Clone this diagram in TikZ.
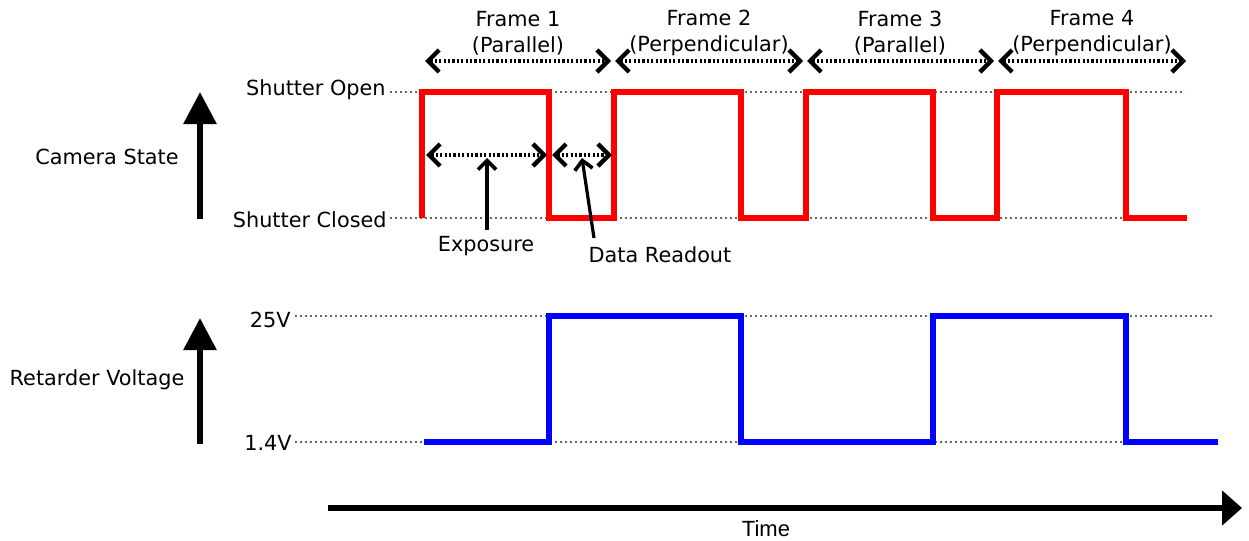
\documentclass[tikz,border=0pt]{standalone}
\usepackage{fontspec}
\setmainfont{DejaVu Sans}
\newfontfamily\timefont{Liberation Sans}
\usetikzlibrary{arrows.meta}

\begin{document}
\begin{tikzpicture}[x=0.5pt,y=-0.5pt,
  guide/.style={gray!80!black,line width=0.7pt,dash pattern=on 1.2pt off 1.3pt},
  frame/.style={line width=2pt,dash pattern=on 1.1pt off 1.1pt,
    {Straight Barb[length=5.5pt,width=11pt,line width=2.2pt]}-{Straight Barb[length=5.5pt,width=11pt,line width=2.2pt]}},
  pointer/.style={line width=1.6pt,-{Straight Barb[length=4.5pt,width=9pt,line width=1.8pt]}},
  updown/.style={line width=3pt,-{Triangle[length=16pt,width=16pt]}},
  lbl/.style={inner sep=0pt,font=\fontsize{10.4}{13}\selectfont}]
\useasboundingbox (0,0) rectangle (1249,541);

% level labels and guide lines
\node[lbl,anchor=east] (open) at (386,90) {Shutter Open};
\node[lbl,anchor=east] (closed) at (387,220) {Shutter Closed};
\node[lbl,anchor=east] (high) at (291,320) {25V};
\node[lbl,anchor=east] (low) at (292,443) {1.4V};
\draw[guide] (open.east |- 0,92) ++(4,0) -- ++(795,0);
\draw[guide] (closed.east |- 0,218) ++(3,0) -- ++(797,0);
\draw[guide] (high.east |- 0,316) ++(4,0) -- ++(920,0);
\draw[guide] (low.east |- 0,442) ++(3,0) -- ++(923,0);

% axis labels
\node[lbl] (cam) at (107,157) {Camera State};
\node[lbl] (ret) at (97,380) {Retarder Voltage};
\coordinate (cambot) at (200,219);
\coordinate (camtop) at (200,92);
\coordinate (retbot) at (200,444);
\coordinate (rettop) at (200,318);
\draw[updown] (cambot) -- (camtop);
\draw[updown] (retbot) -- (rettop);

% camera shutter signal
\draw[red,line width=3.2pt,line join=miter] (422,218) -- (422,92) -- (549,92) -- (549,218)
  -- (614,218) -- (614,92) -- (741,92) -- (741,218) -- (806,218) -- (806,92)
  -- (933,92) -- (933,218) -- (997,218) -- (997,92) -- (1126,92) -- (1126,218) -- (1187,218);

% retarder voltage signal
\draw[blue,line width=3.2pt,line join=miter] (424,442) -- (549,442) -- (549,316) -- (741,316)
  -- (741,442) -- (933,442) -- (933,316) -- (1126,316) -- (1126,442) -- (1218,442);

% frames
\coordinate (fa) at (425,61);
\coordinate (fb) at (611,61);
\coordinate (fc) at (615,61);
\coordinate (fd) at (803,61);
\coordinate (fe) at (807,61);
\coordinate (ff) at (994,61);
\coordinate (fg) at (998,61);
\coordinate (fh) at (1186,61);
\draw[frame] (fa) -- (fb);
\draw[frame] (fc) -- (fd);
\draw[frame] (fe) -- (ff);
\draw[frame] (fg) -- (fh);
\node[lbl,align=center] (frame1) at (518,33) {Frame 1\\(Parallel)};
\node[lbl,align=center] (frame2) at (709,33) {Frame 2\\(Perpendicular)};
\node[lbl,align=center] (frame3) at (900,33) {Frame 3\\(Parallel)};
\node[lbl,align=center] (frame4) at (1092,33) {Frame 4\\(Perpendicular)};

% exposure and readout
\coordinate (ea) at (426,155);
\coordinate (eb) at (547,155);
\coordinate (ra) at (552,155);
\coordinate (rb) at (612,155);
\draw[frame] (ea) -- (eb);
\draw[frame] (ra) -- (rb);
\node[lbl] (expo) at (486,246) {Exposure};
\node[lbl] (readout) at (660,255) {Data Readout};
\coordinate (expotip) at (487,158);
\coordinate (readtail) at (594,238);
\coordinate (readtip) at (582,158);
\draw[pointer] (expo.north -| expotip) ++(0,-6) -- (expotip);
\draw[pointer] (readtail) -- (readtip);

% time axis
\coordinate (t0) at (328,508);
\coordinate (t1) at (1242,508);
\draw[line width=3pt,-{Triangle[length=10pt,width=17pt]}] (t0) -- (t1);
\node[lbl,font=\timefont\fontsize{11}{13}\selectfont] (time) at (766,529) {Time};
\end{tikzpicture}
\end{document}
